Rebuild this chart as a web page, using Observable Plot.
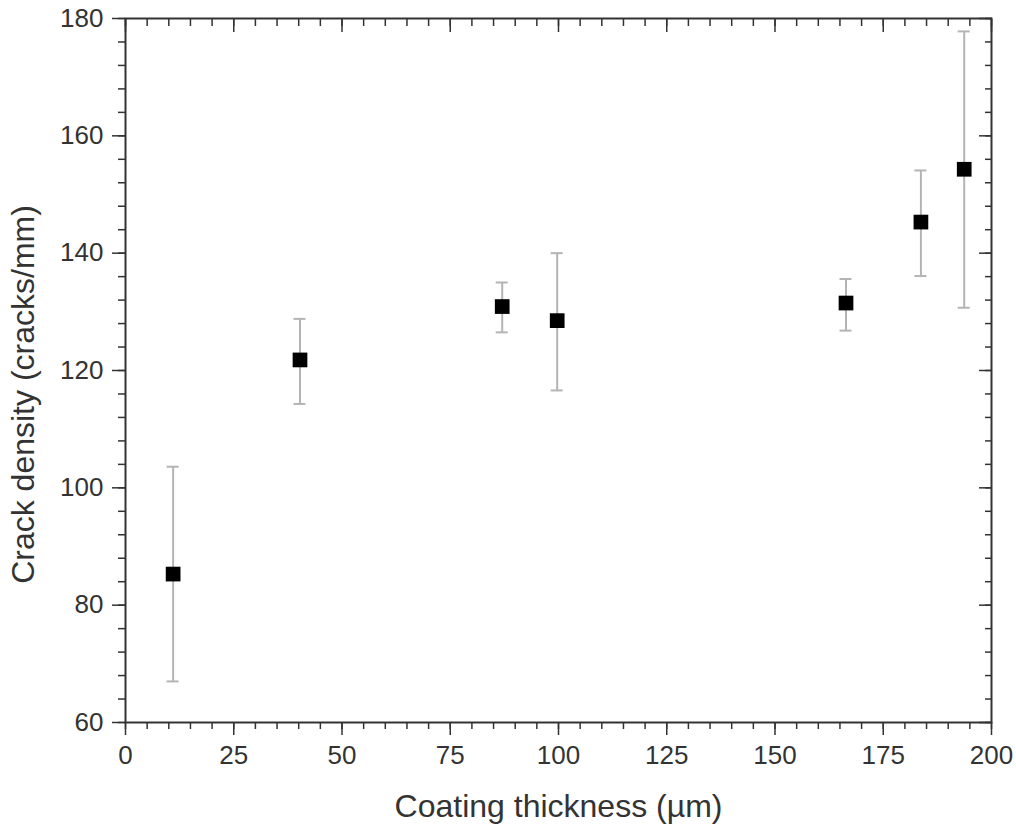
<!DOCTYPE html>
<html>
<head>
<meta charset="utf-8">
<script src="https://cdn.jsdelivr.net/npm/d3@7"></script>
<script src="https://cdn.jsdelivr.net/npm/@observablehq/plot@0.6"></script>
<style>
  html, body { margin: 0; padding: 0; background: #fff; }
  #chart svg { display: block; }
</style>
</head>
<body>
<div id="chart"></div>
<script>
// Data
const thickness = [11.0, 40.3, 87.0, 99.7, 166.4, 183.7, 193.7];
const density   = [85.3, 121.8, 130.9, 128.5, 131.5, 145.3, 154.3];
const errLow    = [67.0, 114.3, 126.5, 116.6, 126.8, 136.1, 130.7];
const errHigh   = [103.6, 128.8, 135.0, 140.0, 135.6, 154.1, 177.8];

const xMajorTicks = [0, 25, 50, 75, 100, 125, 150, 175, 200];
const xMinorTicks = d3.range(0, 201, 5);
const yMajorTicks = [60, 80, 100, 120, 140, 160, 180];
const yMinorTicks = d3.range(60, 181, 4);

const data = thickness.map((t, i) => ({
  x: t, y: density[i], lo: errLow[i], hi: errHigh[i]
}));

const ink = "#333";
const errColor = "#b4b4b4";

const chart = Plot.plot({
  width: 1016,
  height: 826,
  marginLeft: 125,
  marginRight: 25,
  marginTop: 18,
  marginBottom: 104,
  style: { fontFamily: "'Liberation Sans', Arial, sans-serif", color: ink, background: "#fff" },
  x: { domain: [0, 200] },
  y: { domain: [60, 180] },
  marks: [
    // minor ticks
    Plot.axisX(xMinorTicks, { anchor: "bottom", tickSize: 7, text: null, label: null, stroke: ink, strokeWidth: 1.5 }),
    Plot.axisX(xMinorTicks, { anchor: "top", tickSize: -7, text: null, label: null, stroke: ink, strokeWidth: 1.5 }),
    Plot.axisY(yMinorTicks, { anchor: "left", tickSize: 7, text: null, label: null, stroke: ink, strokeWidth: 1.5 }),
    Plot.axisY(yMinorTicks, { anchor: "right", tickSize: -7, text: null, label: null, stroke: ink, strokeWidth: 1.5 }),
    // major ticks with labels
    Plot.axisX(xMajorTicks, {
      anchor: "bottom", tickSize: 13, tickPadding: 10, fontSize: 26, stroke: ink, strokeWidth: 1.5,
      label: "Coating thickness (µm)", labelAnchor: "center", labelArrow: "none", labelOffset: 94
    }),
    Plot.axisX(xMajorTicks, { anchor: "top", tickSize: -13, text: null, label: null, stroke: ink, strokeWidth: 1.5 }),
    Plot.axisY(yMajorTicks, {
      anchor: "left", tickSize: 13, tickPadding: 9, fontSize: 26, stroke: ink, strokeWidth: 1.5,
      label: "Crack density (cracks/mm)", labelAnchor: "center", labelArrow: "none", labelOffset: 114
    }),
    Plot.axisY(yMajorTicks, { anchor: "right", tickSize: -13, text: null, label: null, stroke: ink, strokeWidth: 1.5 }),
    Plot.frame({ stroke: ink, strokeWidth: 2 }),
    // error bars
    Plot.ruleX(data, { x: "x", y1: "lo", y2: "hi", stroke: errColor, strokeWidth: 2 }),
    Plot.ruleY(data, { y: "hi", x1: "x", x2: "x", insetLeft: -6, insetRight: -6, stroke: errColor, strokeWidth: 2 }),
    Plot.ruleY(data, { y: "lo", x1: "x", x2: "x", insetLeft: -6, insetRight: -6, stroke: errColor, strokeWidth: 2 }),
    // points
    Plot.dot(data, { x: "x", y: "y", symbol: "square", r: 8.3, fill: "#000", stroke: "none" })
  ]
});

// axis titles are larger than tick labels in the reference
d3.select(chart).selectAll("[aria-label$='axis label'] text").style("font-size", "32px");
// the y title sits a little below the frame centre in the reference
d3.select(chart).selectAll("[aria-label='y-axis label']").each(function () {
  const g = d3.select(this);
  const t = g.attr("transform") || "";
  g.attr("transform", (t + " translate(0,24)").trim());
});

document.getElementById("chart").appendChild(chart);
</script>
</body>
</html>
